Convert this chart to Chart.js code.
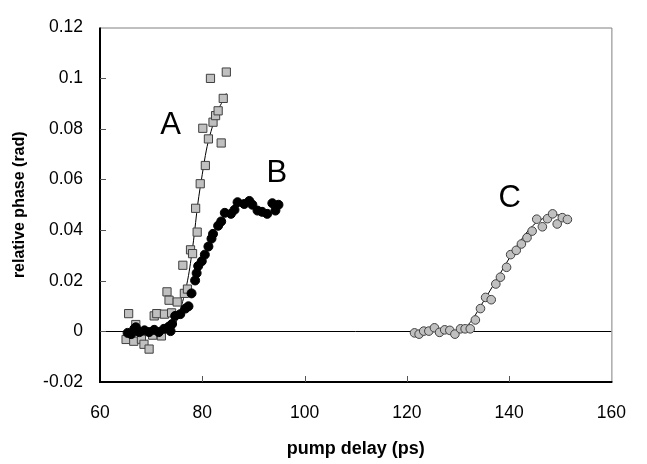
<!DOCTYPE html>
<html>
<head>
<meta charset="utf-8">
<script src="https://cdn.jsdelivr.net/npm/chart.js@4/dist/chart.umd.min.js"></script>
<style>
  html, body { margin: 0; padding: 0; background: #fff; }
  #wrap { width: 647px; height: 464px; position: relative; }
</style>
</head>
<body>
<div id="wrap"><canvas id="phase-chart"></canvas></div>
<script>
// series A: grey squares (pump delay ps, relative phase rad)
const aDelay = [65.1, 66.6, 67.0, 68.1, 68.6, 69.6, 70.3, 65.6, 70.6, 71.1, 72.0, 72.6, 73.1, 73.5, 74.0, 75.1, 76.5, 77.1, 76.2, 77.7, 78.1, 79.0, 78.7, 79.6, 80.6, 81.2, 83.7, 80.1, 82.1, 82.6, 83.1, 84.1, 81.6, 84.7];
const aPhase = [-0.0032, -0.0039, 0.0027, -0.0031, -0.0051, -0.0070, -0.0015, 0.0070, 0.0061, 0.0070, -0.0018, 0.0068, 0.0156, 0.0123, 0.0073, 0.0116, 0.0150, 0.0167, 0.0261, 0.0322, 0.0307, 0.0392, 0.0486, 0.0583, 0.0655, 0.0760, 0.0744, 0.0802, 0.0826, 0.0852, 0.0871, 0.0920, 0.0999, 0.1024];
// fit through A
const aFitDelay = [65, 70, 73, 74.7, 76, 77.3, 78.3, 79.1, 80, 80.8, 82, 83, 84, 84.7];
const aFitPhase = [0, 0.0002, 0.001, 0.003, 0.0106, 0.022, 0.036, 0.050, 0.062, 0.0716, 0.081, 0.087, 0.091, 0.094];

// series B: black circles
const bDelay = [65.4, 66.1, 66.7, 67.0, 67.7, 68.7, 69.6, 70.6, 71.5, 72.5, 73.5, 73.8, 74.1, 74.7, 75.7, 76.7, 77.3, 77.9, 78.6, 78.9, 79.2, 79.9, 80.5, 81.2, 81.8, 82.1, 83.1, 83.7, 84.4, 85.6, 86.3, 86.9, 88.2, 89.2, 89.8, 90.8, 91.7, 92.7, 93.7, 94.3, 94.9];
const bPhase = [-0.0006, -0.0011, 0.0010, 0.0016, -0.0003, 0.0004, -0.0003, 0.0006, -0.0003, 0.0010, 0.0019, 0.0001, 0.0029, 0.0061, 0.0068, 0.0090, 0.0099, 0.0150, 0.0201, 0.0230, 0.0258, 0.0277, 0.0303, 0.0335, 0.0366, 0.0385, 0.0417, 0.0434, 0.0468, 0.0464, 0.0480, 0.0510, 0.0503, 0.0515, 0.0500, 0.0477, 0.0472, 0.0464, 0.0506, 0.0477, 0.0500];

// series C: grey circles
const cDelay = [121.5, 122.4, 123.3, 124.3, 125.4, 126.4, 127.4, 128.4, 129.4, 130.5, 131.4, 132.4, 133.4, 134.4, 135.4, 136.5, 137.4, 138.3, 139.5, 140.3, 141.4, 142.4, 143.5, 144.5, 145.4, 146.5, 147.5, 148.5, 149.4, 150.4, 151.4];
const cPhase = [-0.0006, -0.0011, 0.0001, 0.0001, 0.0014, -0.0004, 0.0006, 0.0004, -0.0011, 0.0010, 0.0010, 0.0010, 0.0045, 0.0090, 0.0134, 0.0125, 0.0187, 0.0214, 0.0253, 0.0303, 0.0320, 0.0345, 0.0370, 0.0396, 0.0443, 0.0413, 0.0445, 0.0464, 0.0424, 0.0449, 0.0442];
// fit through C
const cFitDelay = [121, 126, 129, 130.5, 132.4, 134.4, 136.9, 139.5, 142.1, 144.6, 147.2, 150.4];
const cFitPhase = [0, 0, 0, 0.0008, 0.0035, 0.0099, 0.0182, 0.0271, 0.0354, 0.0417, 0.0451, 0.0462];

// curve labels, in data coords
const curveNames = ["A", "B", "C"];
const nameDelay = [73.8, 94.6, 140.1];
const namePhase = [0.0815, 0.0622, 0.0525];

// tick values
const xTicks = [60, 80, 100, 120, 140, 160];
const yTicks = [-0.02, 0, 0.02, 0.04, 0.06, 0.08, 0.1, 0.12];

function pts(xs, ys) {
  return xs.map((x, i) => ({x: x, y: ys[i]}));
}

const FONT = "'Liberation Sans', Arial, sans-serif";

// frame + inward ticks + curve letters
const framePlugin = {
  id: "frame",
  afterDatasetsDraw(chart) {
    const {ctx, chartArea: a, scales} = chart;
    ctx.save();
    // top and right: thin grey
    ctx.strokeStyle = "#808080";
    ctx.lineWidth = 1;
    ctx.beginPath();
    ctx.moveTo(a.left, a.top + 0.5);
    ctx.lineTo(a.right + 0.5, a.top + 0.5);
    ctx.lineTo(a.right + 0.5, a.bottom);
    ctx.stroke();
    // left and bottom: black
    ctx.strokeStyle = "#000";
    ctx.lineWidth = 2;
    ctx.beginPath();
    ctx.moveTo(a.left, a.top);
    ctx.lineTo(a.left, a.bottom);
    ctx.lineTo(a.right + 1, a.bottom);
    ctx.stroke();
    // ticks pointing in
    ctx.lineWidth = 1;
    ctx.strokeStyle = "#555";
    ctx.beginPath();
    xTicks.slice(1, -1).forEach(v => {
      const px = Math.round(scales.x.getPixelForValue(v)) + 0.5;
      ctx.moveTo(px, a.bottom);
      ctx.lineTo(px, a.bottom - 6);
    });
    yTicks.slice(1, -1).forEach(v => {
      const py = Math.round(scales.y.getPixelForValue(v)) + 0.5;
      ctx.moveTo(a.left, py);
      ctx.lineTo(a.left + 6, py);
    });
    ctx.stroke();
    // curve letters
    ctx.fillStyle = "#000";
    ctx.font = "31px " + FONT;
    ctx.textAlign = "center";
    ctx.textBaseline = "middle";
    curveNames.forEach((n, i) => {
      ctx.fillText(n, scales.x.getPixelForValue(nameDelay[i]), scales.y.getPixelForValue(namePhase[i]));
    });
    ctx.restore();
  }
};

new Chart("phase-chart", {
  type: "scatter",
  data: {
    datasets: [
      {
        label: "A fit", type: "line", data: pts(aFitDelay, aFitPhase),
        borderColor: "#000", borderWidth: 1, pointRadius: 0, fill: false,
        cubicInterpolationMode: "monotone", order: 5
      },
      {
        label: "C fit", type: "line", data: pts(cFitDelay, cFitPhase),
        borderColor: "#000", borderWidth: 1, pointRadius: 0, fill: false,
        cubicInterpolationMode: "monotone", order: 5
      },
      {
        label: "A", data: pts(aDelay, aPhase), pointStyle: "rect",
        pointRadius: 5.8, backgroundColor: "#c0c0c0", borderColor: "#404040", borderWidth: 1, order: 2
      },
      {
        label: "B", data: pts(bDelay, bPhase), pointStyle: "circle",
        pointRadius: 4.5, backgroundColor: "#000", borderColor: "#000", borderWidth: 1, order: 1
      },
      {
        label: "C", data: pts(cDelay, cPhase), pointStyle: "circle",
        pointRadius: 4.3, backgroundColor: "#c0c0c0", borderColor: "#404040", borderWidth: 1, order: 1
      }
    ]
  },
  options: {
    responsive: true,
    maintainAspectRatio: false,
    animation: false,
    layout: { padding: { top: 15, right: 27, left: 0, bottom: 0 } },
    plugins: { legend: { display: false }, tooltip: { enabled: false } },
    scales: {
      x: {
        type: "linear", min: 60, max: 160,
        afterBuildTicks: s => { s.ticks = xTicks.map(v => ({value: v})); },
        afterFit: s => { s.height = 82; },
        grid: { display: false, drawTicks: false },
        border: { display: false },
        ticks: { padding: 21, color: "#000", font: { family: FONT, size: 17.5 }, maxRotation: 0 },
        title: { display: true, text: "pump delay (ps)", color: "#000",
                 font: { family: FONT, size: 18, weight: "bold" }, padding: { top: 0, bottom: 4 } }
      },
      y: {
        type: "linear", min: -0.02, max: 0.12,
        afterBuildTicks: s => { s.ticks = yTicks.map(v => ({value: v})); },
        afterFit: s => { s.width = 100; },
        grid: {
          drawTicks: false,
          color: c => (c.tick && Math.abs(c.tick.value) < 1e-9) ? "#000" : "rgba(0,0,0,0)",
          lineWidth: 1
        },
        border: { display: false },
        ticks: {
          padding: 17, color: "#000", font: { family: FONT, size: 17.5 },
          callback: v => String(Math.round(v * 100) / 100)
        },
        title: { display: true, text: "relative phase (rad)", color: "#000",
                 font: { family: FONT, size: 16, weight: "bold" }, padding: { top: 10, bottom: 0 } }
      }
    }
  },
  plugins: [framePlugin]
});
</script>
</body>
</html>
